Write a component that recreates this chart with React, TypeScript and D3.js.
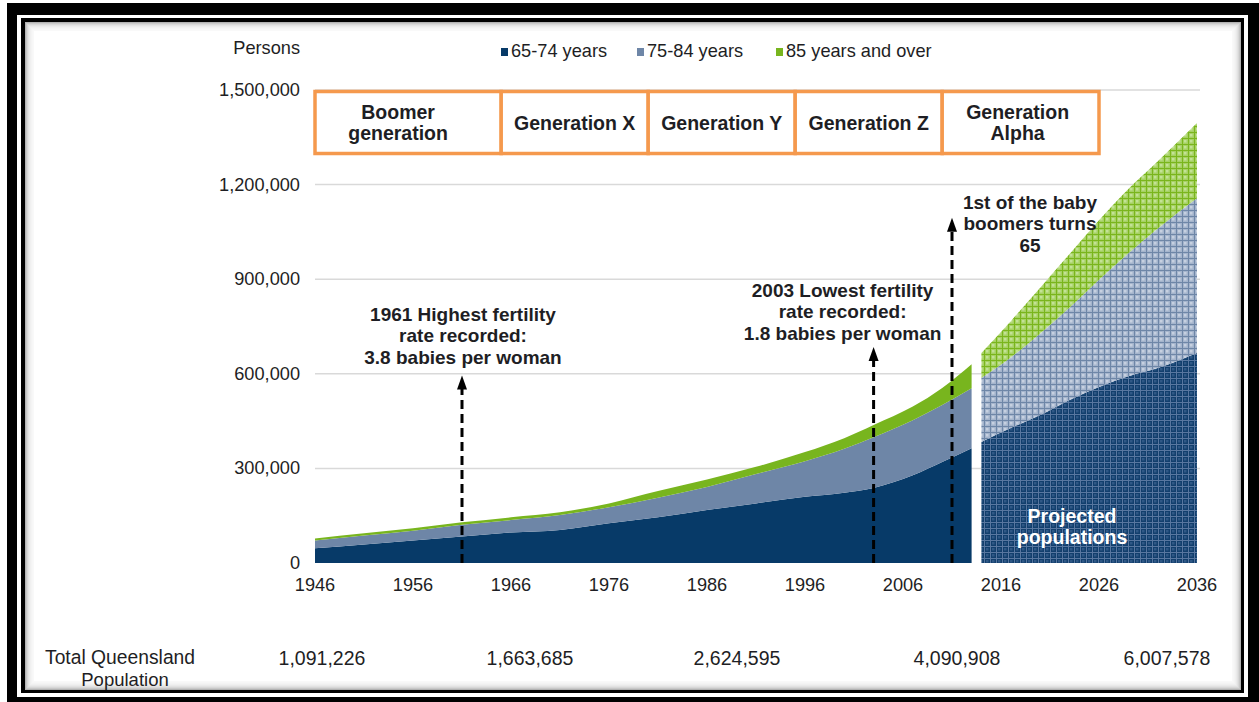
import React from 'react';
import * as d3 from 'd3';

// historical estimates (persons)
const histYears = [1946, 1951, 1956, 1961, 1966, 1971, 1976, 1981, 1986, 1991, 1996, 2000, 2003, 2007, 2010, 2013];
const hist6574 = [47000, 59000, 71000, 84000, 97000, 105000, 126000, 145000, 168000, 189000, 210000, 223000, 238000, 278000, 320000, 364000];
const hist7584 = [24000, 28000, 31000, 37000, 39000, 47000, 51000, 62000, 73000, 93000, 113000, 139000, 161000, 175000, 181000, 190000];
const hist85 = [7000, 7000, 8000, 8000, 9000, 9000, 12000, 21000, 24000, 23000, 29000, 34000, 39000, 43000, 54000, 76000];

// projections
const projYears = [2014, 2017, 2020, 2023, 2026, 2029, 2032, 2036];
const proj6574 = [384000, 428000, 469000, 517000, 558000, 592000, 618000, 666000];
const proj7584 = [203000, 224000, 259000, 293000, 340000, 390000, 443000, 491000];
const proj85 = [79000, 115000, 145000, 170000, 189000, 204000, 213000, 238000];

const xTicks = [1946, 1956, 1966, 1976, 1986, 1996, 2006, 2016, 2026, 2036];
const yTicks = [0, 300000, 600000, 900000, 1200000, 1500000];
const legendLabels = ['65-74 years', '75-84 years', '85 years and over'];

const genBounds = [1946, 1965, 1980, 1995, 2010, 2026];
const genLabels = [['Boomer', 'generation'], ['Generation X'], ['Generation Y'], ['Generation Z'], ['Generation', 'Alpha']];

const noteYears = [1961, 2003, 2011];
const noteTips = [595000, 685000, 1095000];
const noteText = [
  ['1961 Highest fertility', 'rate recorded:', '3.8 babies per woman'],
  ['2003 Lowest fertility', 'rate recorded:', '1.8 babies per woman'],
  ['1st of the baby', 'boomers turns', '65'],
];

const totalPop = ['1,091,226', '1,663,685', '2,624,595', '4,090,908', '6,007,578'];

// layout
const FONT = 'Liberation Sans, Arial, sans-serif';
const TXT = '#1e1e24';
const FS = 18.2;
const noteDx = [1, -31, 78];
const noteTop = [314, 290, 202];
const genDx = [-10, 0, 0, 0, -3];
const legendX = [501, 637, 776];
const popX = [322, 530, 737, 957, 1167];
const colors = ['#073a68', '#6e86a7', '#78b51e'];
const patIds = ['pDark', 'pLight', 'pGreen'];

const x = d3.scaleLinear().domain([1946, 2036]).range([315, 1197]);
const y = d3.scaleLinear().domain([0, 1500000]).range([563, 90]);

const stackOf = (years: number[], a: number[], b: number[], c: number[]) =>
  d3.stack<any>().keys(['a', 'b', 'c'])(years.map((yr, i) => ({ year: yr, a: a[i], b: b[i], c: c[i] })));

const area = d3.area<any>()
  .x(d => x(d.data.year))
  .y0(d => y(d[0]))
  .y1(d => y(d[1]))
  .curve(d3.curveMonotoneX);

export default function App() {
  const hist = stackOf(histYears, hist6574, hist7584, hist85);
  const proj = stackOf(projYears, proj6574, proj7584, proj85);

  const shadow = d3.range(9);

  return (
    <div style={{ position: 'absolute', left: 0, top: 0 }}>
      <svg width={1259} height={702} style={{ display: 'block' }} fontFamily={FONT}>
        <defs>
          <pattern id="pDark" width={6} height={6} patternUnits="userSpaceOnUse">
            <rect width={6} height={6} fill="#123f6d" />
            <rect x={2} y={2} width={2.5} height={2.5} fill="#2f5886" />
            <path d="M0 0.5H6M0.5 0V6" stroke="#5877a0" strokeWidth={1} />
          </pattern>
          <pattern id="pLight" width={6} height={6} patternUnits="userSpaceOnUse">
            <rect width={6} height={6} fill="#a4b4cc" />
            <rect x={2} y={2} width={2.5} height={2.5} fill="#c6d0e0" />
            <path d="M0 0.5H6M0.5 0V6" stroke="#6e86a7" strokeWidth={1} />
          </pattern>
          <pattern id="pGreen" width={6} height={6} patternUnits="userSpaceOnUse">
            <rect width={6} height={6} fill="#a6d163" />
            <rect x={2} y={2} width={2.5} height={2.5} fill="#c3e296" />
            <path d="M0 0.5H6M0.5 0V6" stroke="#7ab51d" strokeWidth={1} />
          </pattern>
        </defs>

        {/* frame */}
        <rect width={1259} height={702} fill="#fff" />
        <rect x={7} y={3} width={1252} height={699} fill="#000" />
        <rect x={17} y={15} width={1231} height={682} fill="#fff" />
        <rect x={21} y={18} width={1223} height={675} fill="#000" />
        <rect x={25} y={22} width={1216} height={668} fill="#fff" />
        {shadow.map(i => (
          <rect key={i} x={25.5 + i} y={22.5 + i} width={1215 - 2 * i} height={667 - 2 * i}
            fill="none" stroke="#000" strokeOpacity={0.3 * Math.pow(0.72, i)} />
        ))}

        {/* gridlines */}
        {yTicks.slice(1).map(t => (
          <line key={t} x1={315} x2={1200} y1={y(t)} y2={y(t)} stroke="#d9d9d9" strokeWidth={1.5} />
        ))}

        {/* y axis labels */}
        {yTicks.map(t => (
          <text key={t} x={300} y={y(t) + 6} textAnchor="end" fontSize={FS} fill={TXT}>
            {d3.format(',')(t)}
          </text>
        ))}
        <text x={300} y={54} textAnchor="end" fontSize={FS} fill={TXT}>Persons</text>

        {/* x axis labels */}
        {xTicks.map(t => (
          <text key={t} x={x(t)} y={591} textAnchor="middle" fontSize={FS} fill={TXT}>{t}</text>
        ))}

        {/* legend */}
        {legendLabels.map((l, i) => (
          <g key={l}>
            <rect x={legendX[i]} y={48} width={7} height={8} fill={colors[i]} />
            <text x={legendX[i] + 10} y={57} fontSize={FS} fill={TXT}>{l}</text>
          </g>
        ))}

        {/* historical areas */}
        {hist.map((s, i) => (
          <path key={i} d={area(s) || ''} fill={colors[i]} />
        ))}
        {/* projected areas */}
        {proj.map((s, i) => (
          <path key={i} d={area(s) || ''} fill={`url(#${patIds[i]})`} />
        ))}
        <text x={1072} y={523} textAnchor="middle" fontSize={19.5} fontWeight="bold" fill="#fff">Projected</text>
        <text x={1072} y={544} textAnchor="middle" fontSize={19.5} fontWeight="bold" fill="#fff">populations</text>

        {/* generation boxes */}
        {genLabels.map((lines, i) => {
          const x0 = x(genBounds[i]);
          const x1 = x(genBounds[i + 1]);
          return (
            <g key={i}>
              <rect x={x0} y={91.5} width={x1 - x0} height={62} fill="#fff" stroke="#f5994d" strokeWidth={3.5} />
              {lines.map((ln, j) => (
                <text key={j} x={(x0 + x1) / 2 + genDx[i]} y={123 + 6.5 + (j - (lines.length - 1) / 2) * 21}
                  textAnchor="middle" fontSize={19.5} fontWeight="bold" fill={TXT}>{ln}</text>
              ))}
            </g>
          );
        })}

        {/* annotations */}
        {noteYears.map((yr, i) => {
          const ax = x(yr);
          const tip = y(noteTips[i]);
          return (
            <g key={yr}>
              <line x1={ax} x2={ax} y1={y(0)} y2={tip + 10} stroke="#000" strokeWidth={3} strokeDasharray="9 5" />
              <path d={`M${ax},${tip} L${ax - 5},${tip + 14} L${ax + 5},${tip + 14} Z`} fill="#000" />
              {noteText[i].map((ln, j) => (
                <text key={j} x={ax + noteDx[i]} y={noteTop[i] + 6.5 + j * 21.5} textAnchor="middle"
                  fontSize={19} fontWeight="bold" fill={TXT}>{ln}</text>
              ))}
            </g>
          );
        })}

        {/* total population row */}
        <text x={45} y={664} fontSize={19.3} fill={TXT}>Total Queensland</text>
        <text x={125} y={686} textAnchor="middle" fontSize={18.5} fill={TXT}>Population</text>
        {totalPop.map((p, i) => (
          <text key={p} x={popX[i]} y={665} textAnchor="middle" fontSize={19.5} fill={TXT}>{p}</text>
        ))}
      </svg>
    </div>
  );
}
